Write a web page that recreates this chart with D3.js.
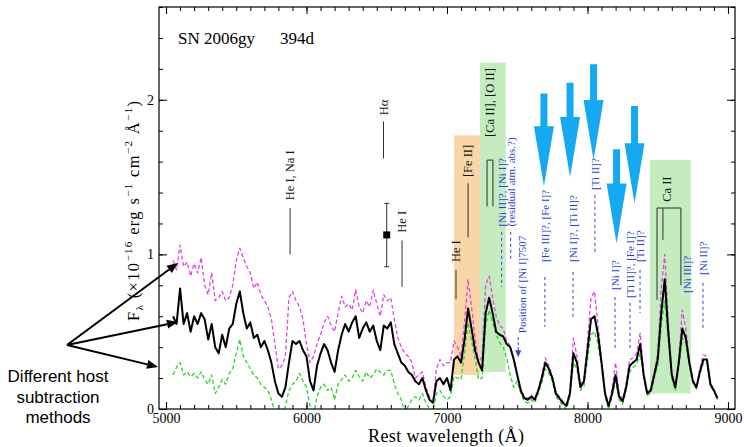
<!DOCTYPE html>
<html>
<head>
<meta charset="utf-8">
<script src="https://cdn.jsdelivr.net/npm/d3@7"></script>
<style>
  body { margin: 0; background: #fff; }
  svg { display: block; }
</style>
</head>
<body>
<svg id="chart" width="744" height="447"></svg>
<script>
// Rest-frame wavelength samples (Å) shared by the three host-subtracted spectra
const wavelength = [
  5050,5075,5100,5125,5150,5175,5200,5225,5250,5275,
  5300,5325,5350,5375,5400,5425,5450,5475,5500,5525,
  5550,5575,5600,5625,5650,5675,5700,5725,5750,5775,
  5800,5825,5850,5875,5900,5925,5950,5975,6000,6025,
  6050,6075,6100,6125,6150,6175,6200,6225,6250,6275,
  6300,6325,6350,6375,6400,6425,6450,6475,6500,6525,
  6550,6575,6600,6625,6650,6675,6700,6725,6750,6775,
  6800,6825,6850,6875,6900,6925,6950,6975,7000,7025,
  7050,7075,7100,7125,7150,7175,7200,7225,7250,7275,
  7300,7325,7350,7375,7400,7425,7450,7475,7500,7525,
  7550,7575,7600,7625,7650,7675,7700,7725,7750,7775,
  7800,7825,7850,7875,7900,7925,7950,7975,8000,8025,
  8050,8075,8100,8125,8150,8175,8200,8225,8250,8275,
  8300,8325,8350,8375,8400,8425,8450,8475,8500,8525,
  8550,8575,8600,8625,8650,8675,8700,8725,8750,8775,
  8800,8825,8850,8875,8900,8925
];

// Flux (10^-16 erg s^-1 cm^-2 Å^-1), adopted host subtraction
const fluxAdopted = [
  0.60,0.55,0.78,0.55,0.62,0.50,0.60,0.55,0.62,0.58,
  0.45,0.55,0.40,0.36,0.48,0.40,0.52,0.55,0.68,0.76,
  0.62,0.52,0.56,0.46,0.48,0.40,0.44,0.38,0.30,0.18,
  0.10,0.08,0.14,0.30,0.44,0.42,0.44,0.38,0.34,0.18,
  0.12,0.28,0.36,0.42,0.38,0.30,0.24,0.38,0.48,0.55,
  0.50,0.56,0.60,0.46,0.52,0.56,0.50,0.54,0.44,0.38,
  0.54,0.52,0.56,0.42,0.36,0.30,0.28,0.24,0.22,0.18,
  0.16,0.20,0.12,0.06,0.04,0.18,0.20,0.16,0.20,0.12,
  0.32,0.34,0.30,0.45,0.65,0.52,0.38,0.30,0.25,0.62,
  0.72,0.62,0.50,0.48,0.47,0.42,0.40,0.32,0.22,0.12,
  0.07,0.06,0.08,0.06,0.12,0.20,0.30,0.26,0.20,0.10,
  0.07,0.04,0.02,0.10,0.36,0.30,0.14,0.18,0.38,0.58,
  0.60,0.48,0.30,0.10,0.02,0.10,0.22,0.08,0.05,0.14,
  0.28,0.30,0.32,0.42,0.22,0.10,0.12,0.22,0.32,0.62,
  0.84,0.50,0.22,0.14,0.30,0.52,0.46,0.30,0.18,0.14,
  0.24,0.32,0.32,0.16,0.12,0.07
];

// Flux with the weaker host template removed (upper, magenta)
const fluxHostLow = [
  0.96,0.90,1.06,0.92,0.95,0.86,0.94,0.88,0.98,0.80,
  0.74,0.88,0.70,0.72,0.76,0.70,0.72,0.80,0.96,1.04,
  0.98,0.92,0.88,0.78,0.82,0.74,0.70,0.66,0.58,0.42,
  0.26,0.28,0.34,0.72,0.76,0.70,0.66,0.58,0.42,0.30,
  0.34,0.42,0.48,0.56,0.60,0.54,0.50,0.62,0.73,0.66,
  0.68,0.64,0.77,0.66,0.62,0.70,0.66,0.77,0.68,0.60,
  0.74,0.70,0.72,0.58,0.46,0.40,0.36,0.34,0.30,0.20,
  0.22,0.24,0.14,0.08,0.04,0.26,0.32,0.28,0.30,0.30,
  0.44,0.40,0.34,0.56,0.84,0.66,0.46,0.30,0.34,0.80,
  0.86,0.72,0.60,0.54,0.52,0.44,0.41,0.33,0.23,0.13,
  0.08,0.07,0.09,0.07,0.13,0.22,0.33,0.28,0.21,0.11,
  0.08,0.05,0.03,0.12,0.46,0.34,0.15,0.20,0.44,0.72,
  0.76,0.54,0.32,0.11,0.03,0.13,0.30,0.10,0.06,0.16,
  0.32,0.33,0.36,0.49,0.24,0.11,0.13,0.24,0.36,0.78,
  1.00,0.56,0.24,0.15,0.33,0.64,0.52,0.32,0.19,0.15,
  0.26,0.35,0.34,0.17,0.12,0.06
];

// Flux with the stronger host template removed (lower, green)
const fluxHostHigh = [
  0.22,0.27,0.30,0.22,0.24,0.21,0.23,0.20,0.24,0.19,
  0.16,0.22,0.10,0.14,0.19,0.16,0.23,0.26,0.36,0.45,
  0.34,0.30,0.26,0.22,0.20,0.16,0.14,0.12,0.06,-0.02,
  -0.08,-0.05,0.02,0.12,0.16,0.18,0.23,0.18,0.14,0.02,
  -0.04,0.08,0.14,0.16,0.12,0.14,0.06,0.16,0.19,0.22,
  0.18,0.20,0.25,0.21,0.18,0.24,0.20,0.22,0.26,0.24,
  0.22,0.25,0.25,0.16,0.10,0.06,-0.02,0.02,0.06,0.08,
  0.06,0.10,0.04,0.00,-0.02,0.10,0.12,0.08,0.06,0.08,
  0.21,0.20,0.19,0.36,0.56,0.44,0.32,0.19,0.20,0.54,
  0.64,0.56,0.48,0.43,0.40,0.33,0.22,0.14,0.18,0.10,
  0.05,0.04,0.06,0.04,0.10,0.17,0.26,0.23,0.18,0.08,
  0.05,0.02,0.00,0.08,0.30,0.26,0.12,0.15,0.32,0.48,
  0.50,0.42,0.27,0.08,0.00,0.08,0.18,0.06,0.03,0.12,
  0.24,0.27,0.29,0.36,0.20,0.09,0.10,0.20,0.28,0.54,
  0.70,0.44,0.20,0.12,0.27,0.46,0.42,0.28,0.17,0.13,
  0.22,0.30,0.30,0.15,0.11,0.07
];

const xTickLabels = [5000, 6000, 7000, 8000, 9000];
const yTickLabels = [0, 1, 2];

// Shaded wavelength windows (Å) and their flux extent
const bands = [
  { from: 7050, to: 7235, lo: 0.22, hi: 1.77, kind: "fe" },
  { from: 7235, to: 7418, lo: 0.24, hi: 2.24, kind: "ca" },
  { from: 8445, to: 8735, lo: 0.10, hi: 1.61, kind: "ca" }
];

// Line identifications with a solid marker below the name
const lineIds = [
  { text: "He I, Na I", wl: 5883, at: 1.35, from: 1.30, to: 1.00 },
  { text: "Hα",         wl: 6548, at: 1.90, from: 1.86, to: 1.62 },
  { text: "He I",       wl: 6680, at: 1.14, from: 1.09, to: 0.79 },
  { text: "He I",       wl: 7064, at: 0.95, from: 0.90, to: 0.71 },
  { text: "[Fe II]",    wl: 7150, at: 1.50, from: 1.46, to: 1.11 }
];

// Tentative identifications with a dashed marker
const tentativeIds = [
  { text: "[Ni II]?, [Ni I]?",     wl: 7389, at: 1.18,  from: 1.146, to: 0.79 },
  { text: "(residual atm. abs.?)", wl: 7453, at: 1.18,  from: 1.146, to: 0.97 },
  { text: "[Fe III]?, [Fe I]?",    wl: 7697, at: 0.951, from: 0.854, to: 0.531 },
  { text: "[Ni I]?, [Ti II]?",     wl: 7897, at: 0.951, from: 0.887, to: 0.589 },
  { text: "[Ti II]?",              wl: 8053, at: 1.417, from: 1.385, to: 1.01 },
  { text: "[Ni I]?",               wl: 8196, at: 0.77,  from: 0.725, to: 0.382 },
  { text: "[Ti II]?, [Fe I]?",     wl: 8303, at: 0.718, from: 0.686, to: 0.382 },
  { text: "[Ti II]?",              wl: 8374, at: 0.951, from: 0.90,  to: 0.621 },
  { text: "[Ni III]?",             wl: 8708, at: 0.751 },
  { text: "[Ni II]?",              wl: 8822, at: 0.867, from: 0.816, to: 0.511 }
];

// Features marked by large arrows (tail and tip flux)
const featureArrows = [
  { wl: 7690, top: 2.04, tip: 1.44 },
  { wl: 7876, top: 2.11, tip: 1.50 },
  { wl: 8043, top: 2.23, tip: 1.61 },
  { wl: 8207, top: 1.68, tip: 1.07 },
  { wl: 8335, top: 1.96, tip: 1.33 }
];

// Photometric point with its error bar
const photPoint = { wl: 6571, flux: 1.126, lo: 0.92, hi: 1.33 };

const svg = d3.select("#chart");
const serif = "'Liberation Serif', 'Times New Roman', serif";

const x = d3.scaleLinear().domain([4950, 9050]).range([159, 735]);
const y = d3.scaleLinear().domain([0, 2.6]).range([409, 7]);

const colors = {
  fe: "#f9d6a8", ca: "#c4ecbf",
  adopted: "#000", hostLow: "#e044e6", hostHigh: "#22d822",
  ident: "#2f2f2f", tentative: "#2a3fd6", arrow: "#14a9f0"
};

// clipping to the plot frame
svg.append("defs").append("clipPath").attr("id", "plotClip")
  .append("rect")
  .attr("x", x(4950)).attr("y", y(2.6))
  .attr("width", x(9050) - x(4950)).attr("height", y(0) - y(2.6));

const plot = svg.append("g").attr("clip-path", "url(#plotClip)");

// shaded windows
plot.selectAll("rect.band").data(bands).join("rect")
  .attr("class", "band")
  .attr("x", d => x(d.from)).attr("width", d => x(d.to) - x(d.from))
  .attr("y", d => y(d.hi)).attr("height", d => y(d.lo) - y(d.hi))
  .attr("fill", d => colors[d.kind]);

// spectra
const series = [
  { key: "hostHigh", flux: fluxHostHigh, dash: "4,2.5", width: 1.3 },
  { key: "hostLow",  flux: fluxHostLow,  dash: "4,2.5", width: 1.3 },
  { key: "adopted",  flux: fluxAdopted,  dash: null,    width: 2.0 }
];
const line = d3.line().x(d => x(d[0])).y(d => y(d[1]));
series.forEach(s => {
  plot.append("path")
    .datum(wavelength.map((w, i) => [w, s.flux[i]]))
    .attr("d", line)
    .attr("fill", "none")
    .attr("stroke", colors[s.key])
    .attr("stroke-width", s.width)
    .attr("stroke-dasharray", s.dash)
    .attr("stroke-linejoin", "round");
});

// axes with inward ticks on all four sides
function styleAxis(g) {
  g.select(".domain").remove();
  g.selectAll("line").attr("stroke", "#000").attr("stroke-width", 1);
  g.selectAll("text").attr("font-family", serif).attr("font-size", 14).attr("fill", "#000");
}
const xMinor = d3.range(5000, 9001, 100);
const yMinor = d3.range(0, 2.61, 0.2);

svg.append("g").attr("transform", `translate(0,${y(0)})`)
  .call(d3.axisBottom(x).tickValues(xMinor).tickSize(-4).tickFormat(""))
  .call(styleAxis);
svg.append("g").attr("transform", `translate(0,${y(0)})`)
  .call(d3.axisBottom(x).tickValues(xTickLabels).tickSize(-7).tickPadding(4).tickFormat(d3.format("d")))
  .call(styleAxis);
svg.append("g").attr("transform", `translate(0,${y(2.6)})`)
  .call(d3.axisTop(x).tickValues(xMinor).tickSize(-4).tickFormat(""))
  .call(styleAxis);
svg.append("g").attr("transform", `translate(0,${y(2.6)})`)
  .call(d3.axisTop(x).tickValues(xTickLabels).tickSize(-7).tickFormat(""))
  .call(styleAxis);
svg.append("g").attr("transform", `translate(${x(4950)},0)`)
  .call(d3.axisLeft(y).tickValues(yMinor).tickSize(-4).tickFormat(""))
  .call(styleAxis);
svg.append("g").attr("transform", `translate(${x(4950)},0)`)
  .call(d3.axisLeft(y).tickValues(yTickLabels).tickSize(-8).tickPadding(5).tickFormat(d3.format("d")))
  .call(styleAxis);
svg.append("g").attr("transform", `translate(${x(9050)},0)`)
  .call(d3.axisRight(y).tickValues(yMinor).tickSize(-4).tickFormat(""))
  .call(styleAxis);
svg.append("g").attr("transform", `translate(${x(9050)},0)`)
  .call(d3.axisRight(y).tickValues(yTickLabels).tickSize(-8).tickFormat(""))
  .call(styleAxis);

// frame
svg.append("rect")
  .attr("x", x(4950)).attr("y", y(2.6))
  .attr("width", x(9050) - x(4950)).attr("height", y(0) - y(2.6))
  .attr("fill", "none").attr("stroke", "#000").attr("stroke-width", 1.2);

// rotated label helper: text reads upward, starting at flux level `at`
function vlabel(g, wl, at, text, fill, size) {
  return g.append("text")
    .attr("transform", `translate(${x(wl)},${y(at)}) rotate(-90)`)
    .attr("dy", "0.35em")
    .attr("font-family", serif).attr("font-size", size)
    .attr("fill", fill)
    .text(text);
}

const ann = svg.append("g");

// solid identification markers
lineIds.forEach(d => {
  ann.append("line")
    .attr("x1", x(d.wl)).attr("x2", x(d.wl))
    .attr("y1", y(d.from)).attr("y2", y(d.to))
    .attr("stroke", colors.ident).attr("stroke-width", 1);
  vlabel(ann, d.wl, d.at, d.text, "#111", 12.5);
});

// [Ca II] doublet bracket and label
ann.append("path")
  .attr("d", `M${x(7285)},${y(1.31)}V${y(1.61)}H${x(7327)}V${y(1.31)}`)
  .attr("fill", "none").attr("stroke", colors.ident).attr("stroke-width", 1);
vlabel(ann, 7305, 1.76, "[Ca II], [O II]", "#111", 12.5);

// Ca II triplet bracket and label
const caTop = 1.30;
const caTicks = [{ wl: 8495, to: 0.706 }, { wl: 8537, to: 1.094 }, { wl: 8665, to: 0.80 }];
ann.append("line")
  .attr("x1", x(8495)).attr("x2", x(8665))
  .attr("y1", y(caTop)).attr("y2", y(caTop))
  .attr("stroke", colors.ident).attr("stroke-width", 1);
caTicks.forEach(t => {
  ann.append("line")
    .attr("x1", x(t.wl)).attr("x2", x(t.wl))
    .attr("y1", y(caTop)).attr("y2", y(t.to))
    .attr("stroke", colors.ident).attr("stroke-width", 1);
});
vlabel(ann, 8566, 1.34, "Ca II", "#111", 12.5);

// tentative identifications
tentativeIds.forEach(d => {
  if (d.from !== undefined) {
    ann.append("line")
      .attr("x1", x(d.wl)).attr("x2", x(d.wl))
      .attr("y1", y(d.from)).attr("y2", y(d.to))
      .attr("stroke", colors.tentative).attr("stroke-width", 1)
      .attr("stroke-dasharray", "3,3");
  }
  vlabel(ann, d.wl, d.at, d.text, colors.tentative, 11);
});

// position of [Ni I] 7507
vlabel(ann, 7535, 0.49, "Position of [Ni I]7507", colors.tentative, 11);
ann.append("line")
  .attr("x1", x(7507)).attr("x2", x(7507))
  .attr("y1", y(0.465)).attr("y2", y(0.37))
  .attr("stroke", colors.tentative).attr("stroke-width", 1)
  .attr("stroke-dasharray", "3,2");
ann.append("path")
  .attr("d", `M${x(7507) - 3},${y(0.38)}L${x(7507) + 3},${y(0.38)}L${x(7507)},${y(0.335)}Z`)
  .attr("fill", colors.tentative);

// photometric point
ann.append("line")
  .attr("x1", x(photPoint.wl)).attr("x2", x(photPoint.wl))
  .attr("y1", y(photPoint.lo)).attr("y2", y(photPoint.hi))
  .attr("stroke", "#333").attr("stroke-width", 1);
[photPoint.lo, photPoint.hi].forEach(v => {
  ann.append("line")
    .attr("x1", x(photPoint.wl) - 2.5).attr("x2", x(photPoint.wl) + 2.5)
    .attr("y1", y(v)).attr("y2", y(v))
    .attr("stroke", "#333").attr("stroke-width", 1);
});
ann.append("rect")
  .attr("x", x(photPoint.wl) - 3.5).attr("y", y(photPoint.flux) - 3.5)
  .attr("width", 7).attr("height", 7).attr("fill", "#000");

// large feature arrows
const shaftHalf = 3.5, headHalf = 10, headLen = 60;
ann.selectAll("path.feature").data(featureArrows).join("path")
  .attr("class", "feature")
  .attr("d", d => {
    const cx = x(d.wl), t = y(d.top), p = y(d.tip), h = p - headLen;
    return `M${cx - shaftHalf},${t}H${cx + shaftHalf}V${h}H${cx + headHalf}L${cx},${p}L${cx - headHalf},${h}H${cx - shaftHalf}Z`;
  })
  .attr("fill", colors.arrow);

// title
svg.append("text").attr("x", 178).attr("y", 44)
  .attr("font-family", serif).attr("font-size", 17).text("SN 2006gy");
svg.append("text").attr("x", 280).attr("y", 44)
  .attr("font-family", serif).attr("font-size", 17).text("394d");

// axis titles
svg.append("text")
  .attr("x", (x(7000) + x(7000)) / 2 - 1).attr("y", 442)
  .attr("text-anchor", "middle")
  .attr("font-family", serif).attr("font-size", 18)
  .attr("textLength", 156).attr("lengthAdjust", "spacing")
  .text("Rest wavelength (Å)");

const yTitle = svg.append("text")
  .attr("transform", `translate(139,211) rotate(-90)`)
  .attr("text-anchor", "middle")
  .attr("font-family", serif).attr("font-size", 16.5)
  .attr("textLength", 220).attr("lengthAdjust", "spacing");
yTitle.append("tspan").text("F");
yTitle.append("tspan").attr("font-size", 11).attr("dy", 4).text("λ");
yTitle.append("tspan").attr("dy", -4).text(" (×10");
yTitle.append("tspan").attr("font-size", 11).attr("dy", -7).text("−16");
yTitle.append("tspan").attr("dy", 7).text(" erg s");
yTitle.append("tspan").attr("font-size", 11).attr("dy", -7).text("−1");
yTitle.append("tspan").attr("dy", 7).text(" cm");
yTitle.append("tspan").attr("font-size", 11).attr("dy", -7).text("−2");
yTitle.append("tspan").attr("dy", 7).text(" Å");
yTitle.append("tspan").attr("font-size", 11).attr("dy", -7).text("−1");
yTitle.append("tspan").attr("dy", 7).text(")");

// note on the host subtraction, with pointers to the three spectra
const note = svg.append("g").attr("font-family", "'Liberation Sans', Arial, sans-serif")
  .attr("font-size", 17).attr("text-anchor", "middle").attr("fill", "#000");
["Different host", "subtraction", "methods"].forEach((t, i) => {
  note.append("text").attr("x", 58).attr("y", 382 + i * 20.5).text(t);
});
const origin = [67, 345];
const pointerTips = [[5085, 0.945], [5085, 0.563], [4943, 0.272]];
pointerTips.forEach(([wl, f]) => {
  const tx = x(wl), ty = y(f);
  const ang = Math.atan2(ty - origin[1], tx - origin[0]);
  const hl = 11, hw = 4.5;
  const bx = tx - hl * Math.cos(ang), by = ty - hl * Math.sin(ang);
  svg.append("line")
    .attr("x1", origin[0]).attr("y1", origin[1]).attr("x2", bx).attr("y2", by)
    .attr("stroke", "#000").attr("stroke-width", 2);
  const px = -Math.sin(ang), py = Math.cos(ang);
  svg.append("path")
    .attr("d", `M${tx},${ty}L${bx + hw * px},${by + hw * py}L${bx - hw * px},${by - hw * py}Z`)
    .attr("fill", "#000");
});
</script>
</body>
</html>
